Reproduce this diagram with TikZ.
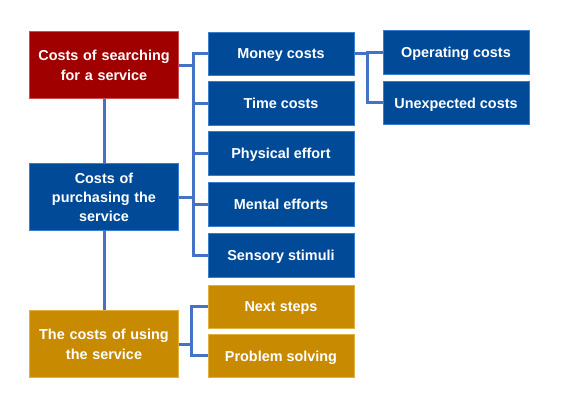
\documentclass[tikz,border=0pt]{standalone}
\usepackage{fontspec}
\setmainfont{Liberation Sans}
\definecolor{cred}{HTML}{A00000}
\definecolor{credb}{HTML}{C85050}
\definecolor{cblue}{HTML}{004A98}
\definecolor{cblueb}{HTML}{3A7CD0}
\definecolor{cgold}{HTML}{C88A00}
\definecolor{cgoldb}{HTML}{E0B040}
\definecolor{cline}{HTML}{4472C4}
\begin{document}
\begin{tikzpicture}[x=0.75pt,y=-0.75pt,
  boxbase/.style={rectangle, line width=0.75pt, text=white, align=center,
    font=\fontsize{10.8}{14.5}\selectfont\bfseries, inner sep=2pt},
  bigbox/.style={boxbase, minimum width=111pt, minimum height=50.25pt, text width=108pt},
  smallbox/.style={boxbase, minimum width=109.5pt, minimum height=32.5pt, text depth=0pt},
  redbox/.style={fill=cred, draw=credb},
  bluebox/.style={fill=cblue, draw=cblueb},
  goldbox/.style={fill=cgold, draw=cgoldb},
  conn/.style={draw=cline, line width=2.25pt}]
\useasboundingbox (0,0) rectangle (562,413);
% left column
\node[bigbox,redbox] (search) at (104,65.5) {Costs of searching\\for a service};
\node[bigbox,bluebox] (buy) at (104,197.5) {Costs of\\purchasing the\\service};
\node[bigbox,goldbox] (use) at (104,344.5) {The costs of using\\the service};
% middle column
\node[smallbox,bluebox] (money) at (281,54) {Money costs};
\node[smallbox,bluebox] (time) at (281,103.5) {Time costs};
\node[smallbox,bluebox] (phys) at (281,153.5) {Physical effort};
\node[smallbox,bluebox] (mental) at (281,204.5) {Mental efforts};
\node[smallbox,bluebox] (sens) at (281,255.5) {Sensory stimuli};
\node[smallbox,goldbox] (next) at (281,307) {Next steps};
\node[smallbox,goldbox] (prob) at (281,356) {Problem solving};
% right column
\node[smallbox,bluebox] (oper) at (456,52.5) {Operating costs};
\node[smallbox,bluebox] (unexp) at (456,103) {Unexpected costs};
% connector coordinates
\coordinate (t1) at (193,54);
\coordinate (t2) at (367,54);
\coordinate (t3) at (191,330);
% connectors
\draw[conn] (search.south) -- (buy.north);
\draw[conn] (buy.south) -- (use.north);
\draw[conn] (money.west) -| (t1) |- (sens.west);
\draw[conn] (search.east) -- (search.east -| t1);
\draw[conn] (time.west) -- (time.west -| t1);
\draw[conn] (phys.west) -- (phys.west -| t1);
\draw[conn] (mental.west) -- (mental.west -| t1);
\draw[conn] (buy.east) -- (buy.east -| t1);
\draw[conn] (oper.west) -| (t2) |- (unexp.west);
\draw[conn] (money.east) -- (money.east -| t2);
\draw[conn] (next.west) -| (t3) |- (prob.west);
\draw[conn] (use.east) -- (use.east -| t3);
\end{tikzpicture}
\end{document}
